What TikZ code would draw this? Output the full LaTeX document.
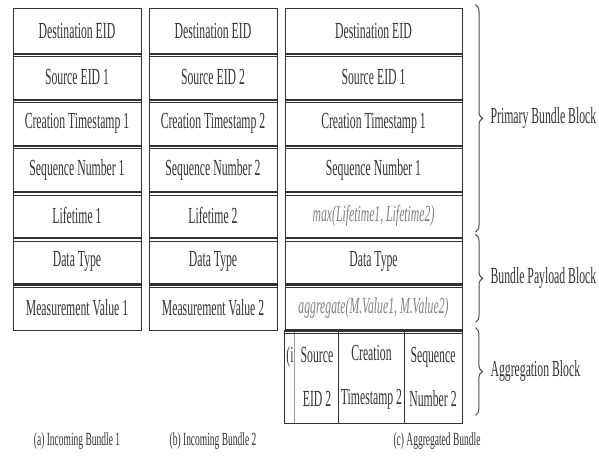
\documentclass[tikz,border=0pt]{standalone}
\usepackage{fontspec}
\setmainfont{Liberation Serif}[FakeStretch=0.51]
\usetikzlibrary{decorations.pathreplacing}

\tikzset{
  cell/.style={draw=black!80, line width=0.5pt, minimum height=23pt, inner sep=0pt,
    text=black!80, font=\fontsize{11.5}{13}\selectfont},
  agg/.style={inner sep=0pt, minimum height=46pt, align=center, text=black!80,
    font=\fontsize{11.5}{22}\selectfont},
  fn/.style={text=black!50, font=\fontsize{11.5}{13}\selectfont\itshape},
  cellline/.style={draw=black!80, line width=0.5pt},
  sepbar/.style={draw=black!80, line width=1.1pt},
  septhin/.style={draw=black!80, line width=0.4pt},
  brc/.style={decorate, decoration={brace, amplitude=3.5pt}, draw=black!70, line width=0.5pt},
  lbl/.style={text=black!80, font=\fontsize{11.5}{13}\selectfont},
  captxt/.style={text=black!80, font=\fontsize{9.3}{11}\selectfont}
}

\begin{document}
\begin{tikzpicture}[x=0.5pt,y=-0.5pt]
\useasboundingbox (0,0) rectangle (599,458);
% (a) incoming bundle 1
\foreach \n/\t [count=\i] in {dst/Destination EID, src/Source EID 1, ts/Creation Timestamp 1,
    seq/Sequence Number 1, life/Lifetime 1, type/Data Type, val/Measurement Value 1}
  \node[cell, minimum width=64pt] (a-\n) at (77,{8+46.15*(\i-0.5)}) {\t};
% (b) incoming bundle 2
\foreach \n/\t [count=\i] in {dst/Destination EID, src/Source EID 2, ts/Creation Timestamp 2,
    seq/Sequence Number 2, life/Lifetime 2, type/Data Type, val/Measurement Value 2}
  \node[cell, minimum width=64pt] (b-\n) at (213,{8+46.15*(\i-0.5)}) {\t};
% (c) aggregated bundle
\foreach \n/\i/\t in {dst/1/Destination EID, src/2/Source EID 1, ts/3/Creation Timestamp 1,
    seq/4/Sequence Number 1, type/6/Data Type}
  \node[cell, minimum width=88.5pt] (c-\n) at (373.5,{8+46.15*(\i-0.5)}) {\t};
\node[cell, fn, minimum width=88.5pt] (c-life) at (373.5,{8+46.15*4.5}) {max(Lifetime1, Lifetime2)};
\node[cell, fn, minimum width=88.5pt] (c-val) at (373.5,{8+46.15*6.5}) {aggregate(M.Value1, M.Value2)};
% aggregation block
\node[agg, minimum width=5pt] (c-cnt) at (290,377) {(i\\\mbox{}};
\node[agg, minimum width=22pt] (c-asrc) at (317,377) {Source\\EID 2};
\node[agg, minimum width=32.5pt] (c-ats) at (371.5,377) {Creation\\Timestamp 2};
\node[agg, minimum width=29pt] (c-aseq) at (433,377) {Sequence\\Number 2};
\draw[cellline] (c-cnt.north west) rectangle (c-aseq.south east);
\draw[cellline] (c-ats.north west) -- (c-ats.south west);
\draw[cellline] (c-ats.north east) -- (c-ats.south east);
\draw[cellline, draw=black!40] (c-asrc.north west) -- (c-asrc.south west);
% double rules between fields
\foreach \c in {a,b,c}
  \foreach \n in {src,ts,seq,life,type,val} {
    \draw[sepbar] (\c-\n.north west) -- (\c-\n.north east);
    \draw[septhin] ([yshift=-1.4pt]\c-\n.north west) -- ([yshift=-1.4pt]\c-\n.north east);
  }
\draw[sepbar] (c-cnt.north west) -- (c-aseq.north east);
\draw[septhin] ([yshift=-1.4pt]c-cnt.north west) -- ([yshift=-1.4pt]c-aseq.north east);
% braces
\draw[brc] ([xshift=6.5pt,yshift=1.5pt]c-dst.north east)
  -- node[lbl, right=4pt] (pbb) {Primary Bundle Block} ([xshift=6.5pt,yshift=3.5pt]c-life.south east);
\draw[brc] ([xshift=6.5pt,yshift=2pt]c-type.north east)
  -- node[lbl, right=4pt] (bpb) {Bundle Payload Block} ([xshift=6.5pt,yshift=4.5pt]c-val.south east);
\draw[brc] ([xshift=6.5pt,yshift=1.5pt]c-aseq.north east)
  -- node[lbl, right=4pt] (agb) {Aggregation Block} ([xshift=6.5pt,yshift=4pt]c-aseq.south east);
% captions
\node[captxt] (cap-a) at (77,441) {(a) Incoming Bundle 1};
\node[captxt] (cap-b) at (213,441) {(b) Incoming Bundle 2};
\node[captxt] (cap-c) at (437,441) {(c) Aggregated Bundle};
\end{tikzpicture}
\end{document}
